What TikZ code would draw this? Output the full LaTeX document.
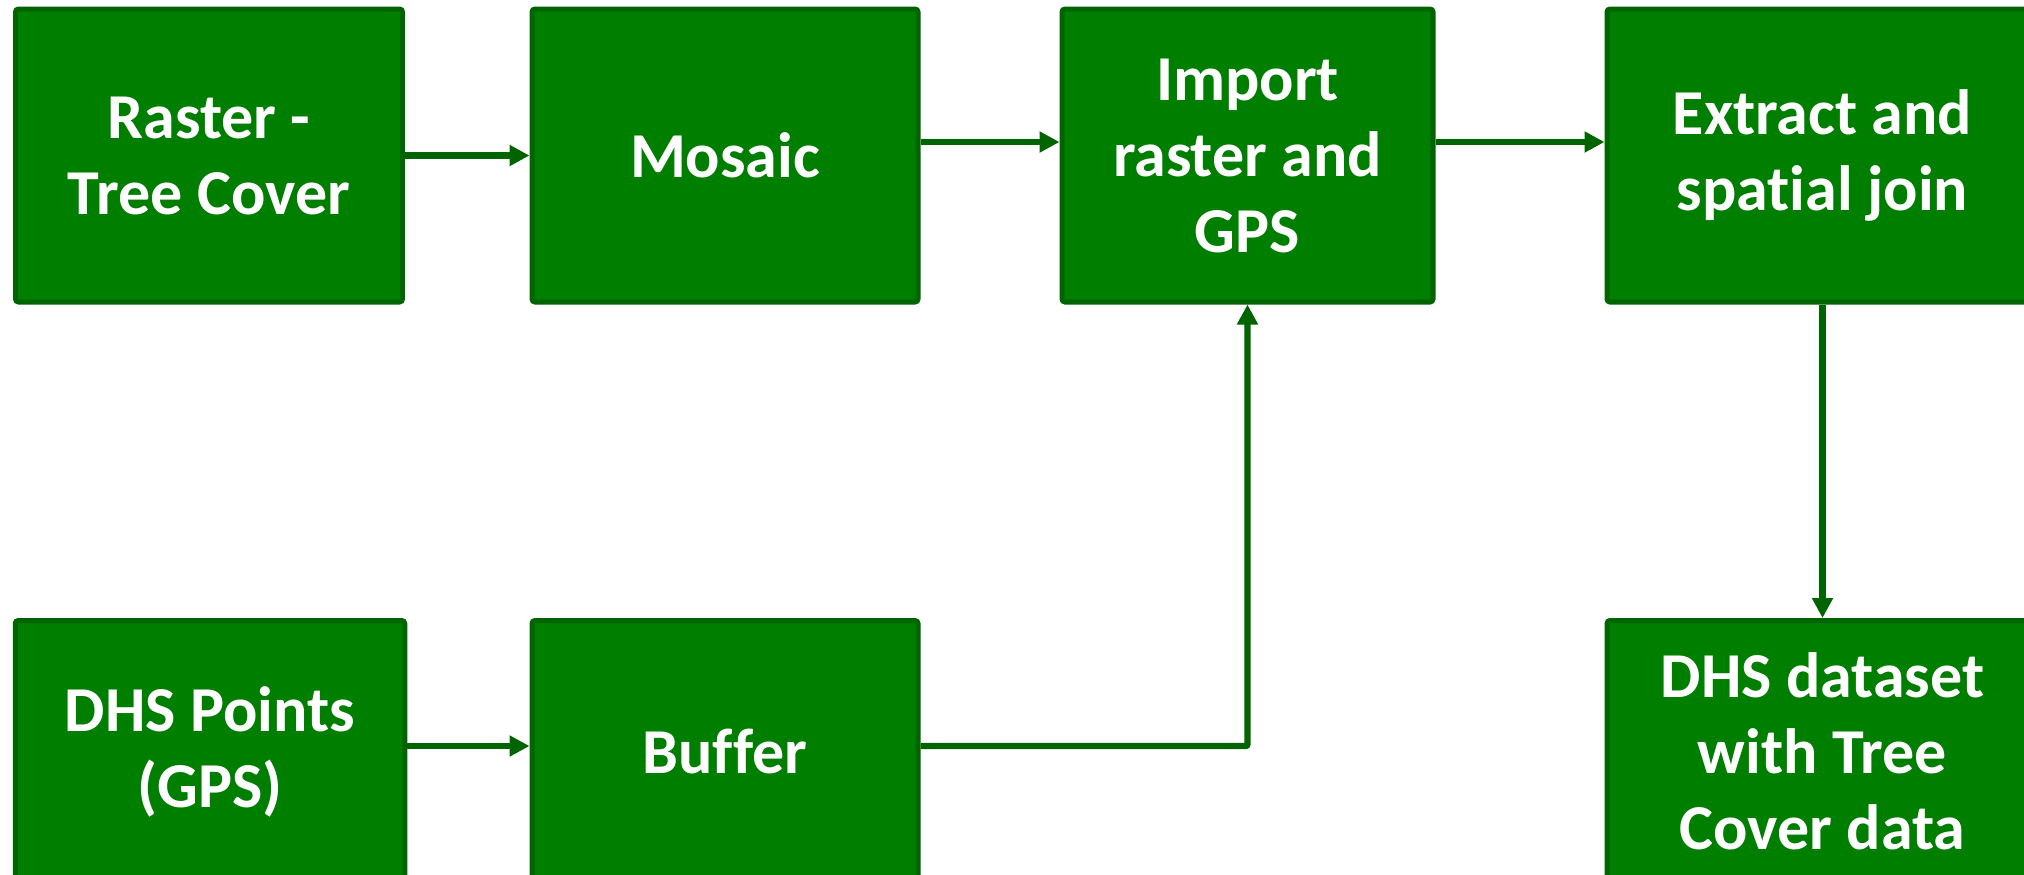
\documentclass[tikz,border=0pt]{standalone}
\usepackage{fontspec}
\setmainfont{Carlito}[RawFeature={-liga;-clig;-dlig;-calt}]
\usetikzlibrary{arrows.meta}
\definecolor{boxfill}{RGB}{0,126,0}
\definecolor{boxline}{RGB}{0,100,0}
\tikzset{
  box/.style={draw=boxline, fill=boxfill, line width=2.5pt, rounded corners=1.5pt,
    text=white, align=center, inner sep=4pt,
    font=\fontsize{32pt}{38pt}\selectfont\bfseries},
  arr/.style={draw=boxline, line width=3.2pt,
    -{Triangle[length=10pt,width=10pt]}}
}
\begin{document}
\begin{tikzpicture}[x=0.5pt,y=-0.5pt]
\useasboundingbox (0,0) rectangle (2024,874);
% top row
\node[box, minimum width=193.5pt, minimum height=146.5pt] (r) at (209,155.5) {Raster -\\Tree Cover};
\node[box, minimum width=193pt, minimum height=146.5pt] (m) at (725,155.5) {Mosaic};
\node[box, minimum width=185.5pt, minimum height=146.5pt] (i) at (1247.5,155.5) {Import\\raster and\\GPS};
\node[box, minimum width=215.5pt, minimum height=146.5pt] (e) at (1822.5,155.5) {Extract and\\spat\kern0pt ial join};
% bottom row
\node[box, minimum width=194.75pt, minimum height=131pt] (d) at (210,751.5) {DHS Points\\(GPS)};
\node[box, minimum width=193pt, minimum height=131pt] (b) at (725,751.5) {Buffer};
\node[box, minimum width=215.5pt, minimum height=131pt] (ds) at (1822.5,751.5) {DHS dataset\\with Tree\\Cover data};
% connectors
\draw[arr] (r.east) -- (m.west);
\draw[arr] ([yshift=6.75pt]m.east) -- ([yshift=6.75pt]i.west);
\draw[arr] ([yshift=6.75pt]i.east) -- ([yshift=6.75pt]e.west);
\draw[arr] (e.south) -- (ds.north);
\draw[arr] ([yshift=2.75pt]d.east) -- ([yshift=2.75pt]b.west);
\draw[arr, rounded corners=1pt] ([yshift=2.75pt]b.east) -| (i.south);
\end{tikzpicture}
\end{document}
